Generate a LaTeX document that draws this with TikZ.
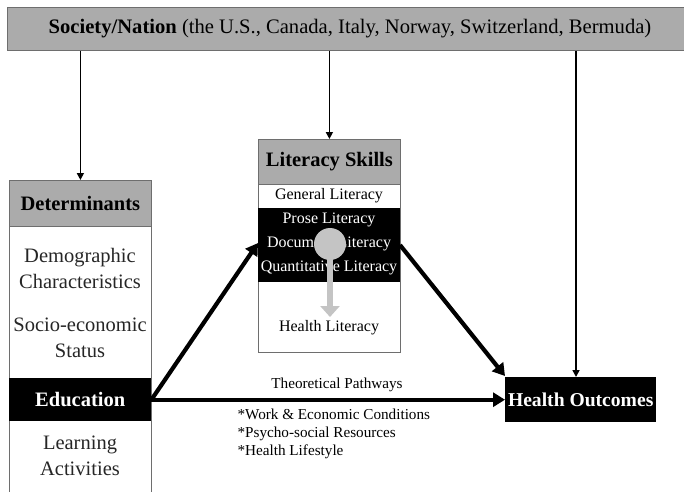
\documentclass[tikz,border=0pt]{standalone}
\usepackage{fontspec}
\setmainfont{Liberation Serif}
\usetikzlibrary{arrows.meta}
\definecolor{hdrgray}{HTML}{ABABAB}
\definecolor{flowgray}{HTML}{C4C4C4}
\definecolor{framegray}{HTML}{6E6E6E}
\tikzset{
  panel/.style={draw=framegray, line width=0.8pt, fill=white, inner sep=0pt, anchor=north west},
  header/.style={draw=framegray, line width=0.8pt, fill=hdrgray, inner sep=0pt, anchor=north west,
    font=\fontsize{20.5}{22}\selectfont\bfseries},
  band/.style={fill=black, text=white, inner sep=0pt, anchor=north west},
  item/.style={align=center, font=\fontsize{20.5}{26}\selectfont, text=black!85},
  litem/.style={font=\fontsize{16}{18}\selectfont},
  note/.style={font=\fontsize{15.2}{17}\selectfont},
  thin arrow/.style={line width=1.6pt, -{Triangle[length=7pt,width=7pt]}},
  thick arrow/.style={line width=4.2pt, -{Triangle[length=12pt,width=14pt]}},
}
\begin{document}
\begin{tikzpicture}[x=1pt,y=-1pt]
\useasboundingbox (0,0) rectangle (684,491);
\fill[white] (0,0) rectangle (684,491);

% society / nation banner
\node[header, minimum width=690pt, minimum height=43pt] (nation) at (7,7) {};
\node[font=\fontsize{20.6}{22}\selectfont] (nationtext) at (350,29) {\textbf{Society/Nation} (the U.S., Canada, Italy, Norway, Switzerland, Bermuda)};

% determinants column
\node[panel, minimum width=142pt, minimum height=330pt] (detbox) at (9,180) {};
\node[header, minimum width=142pt, minimum height=46pt] (dethead) at (9,180) {Determinants};
\node[item] (demo) at (80,268) {Demographic\\Characteristics};
\node[item] (ses) at (80,338) {Socio-economic\\Status};
\node[band, minimum width=142pt, minimum height=43pt, font=\fontsize{20.5}{22}\selectfont\bfseries] (edu) at (9,378) {Education};
\node[item] (learn) at (80,456) {Learning\\Activities};

% literacy skills column
\node[panel, minimum width=142pt, minimum height=213pt] (litbox) at (258,139) {};
\node[header, minimum width=142pt, minimum height=45pt] (lithead) at (258,139) {Literacy Skills};
\node[litem] (general) at (329,196) {General Literacy};
\node[band, minimum width=142pt, minimum height=74pt] (litband) at (258,208) {};
\node[litem, text=white] (prose) at (329,220) {Prose Literacy};
\node[litem, text=white] (document) at (329,244) {Document Literacy};
\node[litem, text=white] (quant) at (329,268) {Quantitative Literacy};
\node[circle, fill=flowgray, minimum size=32pt, inner sep=0pt] (hub) at (330,244) {};
\node[litem] (health) at (329,328) {Health Literacy};
\coordinate (hubend) at (330,317);
\draw[flowgray, line width=6pt, -{Triangle[length=11pt,width=19pt]}] (hub.center) -- (hubend);

% health outcomes
\node[band, minimum width=151pt, minimum height=45pt, font=\fontsize{19.6}{22}\selectfont\bfseries] (outcomes) at (505,377) {Health Outcomes};

% influences of society
\draw[thin arrow] (nation.south -| dethead.north) -- (dethead.north);
\draw[thin arrow] (nation.south -| lithead.north) -- (lithead.north);
\coordinate (outtop) at (576,377);
\draw[thin arrow] (nation.south -| outtop) -- (outtop);

% pathways
\coordinate (litin) at (258,243);
\coordinate (litout) at (400,245);
\coordinate (outin) at (505,376);
\draw[thick arrow] (edu.east) -- (litin);
\draw[thick arrow] (litout) -- (outin);
\draw[thick arrow] (edu.east) -- (outcomes.west);

\node[note] (theory) at (337,385) {Theoretical Pathways};
\node[note, anchor=west] (work) at (234,414) {*Work \& Economic Conditions};
\node[note, anchor=west] (psycho) at (234,434) {*Psycho-social Resources};
\node[note, anchor=west] (lifestyle) at (234,452) {*Health Lifestyle};
\end{tikzpicture}
\end{document}
